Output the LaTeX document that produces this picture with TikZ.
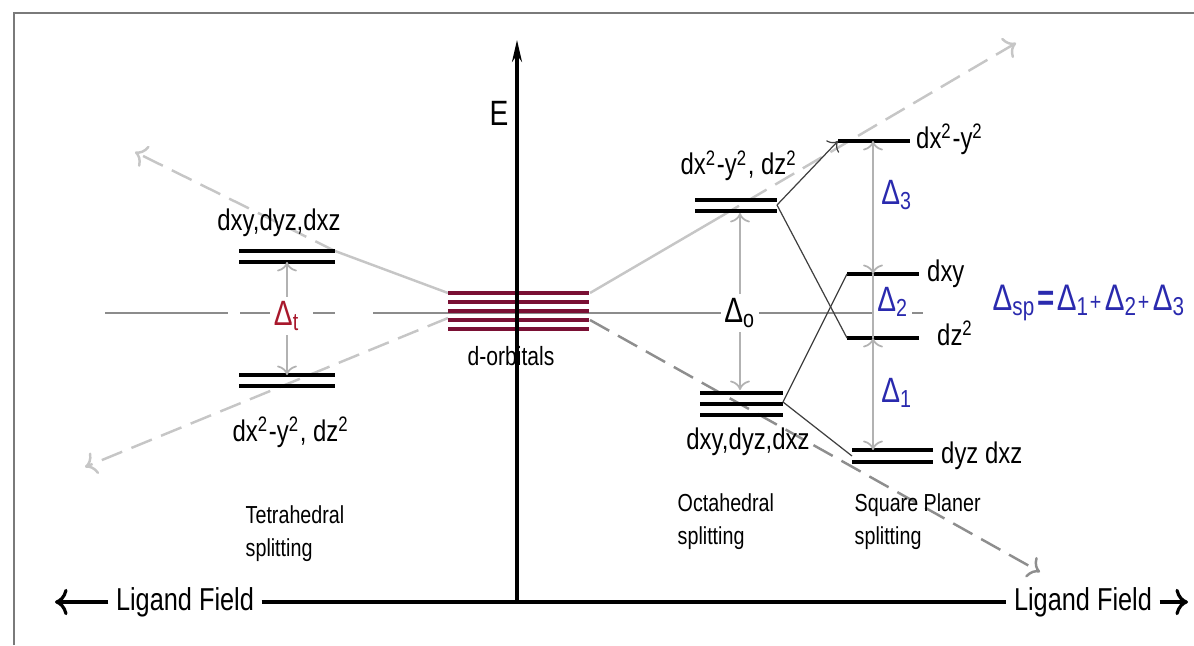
\documentclass[tikz,border=0pt]{standalone}
\usepackage{fontspec}
\setmainfont[FakeStretch=0.8]{Liberation Sans}
\usetikzlibrary{arrows.meta}

\definecolor{dred}{HTML}{7A1034}
\definecolor{dtred}{HTML}{A8182C}
\definecolor{spblue}{HTML}{2A2AAE}
\definecolor{trend}{HTML}{C6C6C6}
\definecolor{trenddk}{HTML}{8E8E8E}
\definecolor{frm}{HTML}{7A7A7A}

\begin{document}
\begin{tikzpicture}[x=0.01cm,y=0.01cm, % 1 pixel = 0.01 cm
  orb/.style={line width=1pt},
  dline/.style={line width=1.3pt, dred},
  cline/.style={gray!90, line width=0.6pt},
  trendl/.style={trend, line width=0.7pt},
  tdash/.style={dash pattern=on 0.22cm off 0.1cm},
  gap/.style={gray!60, line width=0.5pt},
  conn/.style={black!75, line width=0.35pt},
  axis/.style={line width=0.9pt},
  lbl/.style={font=\fontsize{8.5}{10}\selectfont, inner sep=1pt},
  sqlbl/.style={lbl, anchor=base west, yshift=-0.07cm},
  splitlbl/.style={font=\fontsize{7}{9.5}\selectfont, align=left, anchor=north west, inner sep=0pt},
  dlt/.style={font=\fontsize{10}{12}\selectfont, inner sep=1pt, fill=white},
  lig/.style={font=\fontsize{9}{11}\selectfont, inner sep=2pt}
]

% --------- NIVEAUX (y) ----------
\def\ymid{332}    % ligne de référence
\def\yaxis{43}    % axe Ligand Field
\def\xE{517}      % axe E
% --------------------------------

\useasboundingbox (0,0) rectangle (1194,645);

% cadre
\draw[frm, line width=0.7pt] (14,0) -- (14,632) -- (1194,632);

% ligne de référence
\draw[cline] (105,\ymid) -- (228,\ymid);
\draw[cline, dash pattern=on 0.35cm off 0.38cm on 0.22cm off 0.38cm] (240,\ymid) -- (373,\ymid);
\draw[cline] (373,\ymid) -- (923,\ymid);

% tendances (champ des ligands)
\draw[trendl] (448,352) -- (335,394);
\draw[trendl, tdash, ->] (335,394) -- (135,493);
\draw[trendl, tdash, ->] (448,327) -- (85,178);
\draw[trendl] (590,352) -- (720,428);
\draw[trendl, tdash, ->] (720,428) -- (1016,602);
\draw[trenddk, line width=0.7pt, tdash, ->] (590,325) -- (1040,73);

% orbitales d
\foreach \y in {316,325,334,343,352}{
  \draw[dline] (448,\y) -- (589,\y);
}
\node[font=\fontsize{7.5}{9}\selectfont] (dorbs) at (511,289) {d-orbitals};

% axe E
\coordinate (O) at (\xE,\yaxis);
\coordinate (Etop) at (\xE,605);
\draw[axis, -{Stealth[length=0.22cm, width=0.1cm]}] (O) -- (Etop);
\node[font=\fontsize{10}{12}\selectfont] (E) at (499,532) {E};

% --- tetraedrique
\draw[orb] (239,394) -- (335,394);
\draw[orb] (239,383) -- (335,383);
\draw[orb] (239,270) -- (335,270);
\draw[orb] (239,259) -- (335,259);
\node[lbl, anchor=base] (tt2) at (279,414) {dxy,dyz,dxz};
\node[lbl, anchor=base] (te) at (291,204) {dx\textsuperscript{2}-y\textsuperscript{2}, dz\textsuperscript{2}};
\node[dlt, text=dtred] (dt) at (287,329) {Δ\textsubscript{t}};
\coordinate (tup) at (287,383);
\coordinate (tdn) at (287,270);
\draw[gap, ->] (dt) -- (tup);
\draw[gap, ->] (dt) -- (tdn);
\node[splitlbl] (tcap) at (245,140) {Tetrahedral\\splitting};

% --- octaedrique
\draw[orb] (695,445) -- (777,445);
\draw[orb] (695,434) -- (777,434);
\foreach \y in {230,241,252}{
  \draw[orb] (700,\y) -- (783,\y);
}
\node[lbl, anchor=base] (oeg) at (739,470) {dx\textsuperscript{2}-y\textsuperscript{2}, dz\textsuperscript{2}};
\node[lbl, anchor=base] (ot2g) at (748,196) {dxy,dyz,dxz};
\node[dlt] (do) at (740,\ymid) {Δ\textsubscript{o}};
\coordinate (oup) at (740,432);
\coordinate (odn) at (740,255);
\draw[gap, ->] (do) -- (oup);
\draw[gap, ->] (do) -- (odn);
\node[splitlbl] (ocap) at (677,152) {Octahedral\\splitting};

% --- plan carre
\draw[orb] (838,504) -- (910,504);
\draw[orb] (847,371) -- (919,371);
\draw[orb] (847,307) -- (919,307);
\draw[orb] (852,195) -- (933,195);
\draw[orb] (852,183) -- (933,183);
\node[sqlbl] (sqa) at (912,504) {dx\textsuperscript{2}-y\textsuperscript{2}};
\node[sqlbl] (sqb) at (923,371) {dxy};
\node[sqlbl] (sqc) at (933,307) {dz\textsuperscript{2}};
\node[sqlbl] (sqd) at (937,189) {dyz dxz};

% liaisons octa -> plan carre
\coordinate (egR) at (777,440);
\coordinate (t2R) at (783,243);
\coordinate (sA) at (838,504);
\coordinate (sB) at (847,371);
\coordinate (sC) at (847,307);
\coordinate (sD) at (852,189);
\draw[conn, ->] (egR) -- (sA);
\draw[conn] (egR) -- (sC);
\draw[conn] (t2R) -- (sB);
\draw[conn] (t2R) -- (sD);

% ecarts
\coordinate (g3) at (873,504);
\coordinate (g2) at (873,371);
\coordinate (g1) at (873,307);
\coordinate (g0) at (873,195);
\draw[gap, <->] (g3) -- (g2);
\draw[gap] (g2) -- (g1);
\draw[gap, <->] (g1) -- (g0);
\node[dlt, text=spblue, fill=none] (d3) at (897,450) {Δ\textsubscript{3}};
\node[dlt, text=spblue] (d2) at (893,343) {Δ\textsubscript{2}};
\node[dlt, text=spblue, fill=none] (d1) at (897,252) {Δ\textsubscript{1}};

% Delta sp
\node[font=\fontsize{10.5}{13}\selectfont, text=spblue, anchor=base west, inner sep=0pt] (dsp) at (992,335)
  {Δ\textsubscript{sp}\hspace{0.5pt}\textbf{=}\hspace{0.5pt}Δ\textsubscript{1}{\scriptsize+}\hspace{1pt}Δ\textsubscript{2}{\scriptsize+}\hspace{1pt}Δ\textsubscript{3}};

\node[splitlbl] (scap) at (854,152) {Square Planer\\splitting};

% axe Ligand Field
\node[lig] (lfl) at (185,\yaxis) {Ligand Field};
\node[lig] (lfr) at (1083,\yaxis) {Ligand Field};
\coordinate (lend) at (55,\yaxis);
\coordinate (rend) at (1188,\yaxis);
\draw[axis, ->] (lfl.west) -- (lend);
\draw[axis] (lfl.east) -- (lfr.west);
\draw[axis, ->] (lfr.east) -- (rend);

\end{tikzpicture}
\end{document}
